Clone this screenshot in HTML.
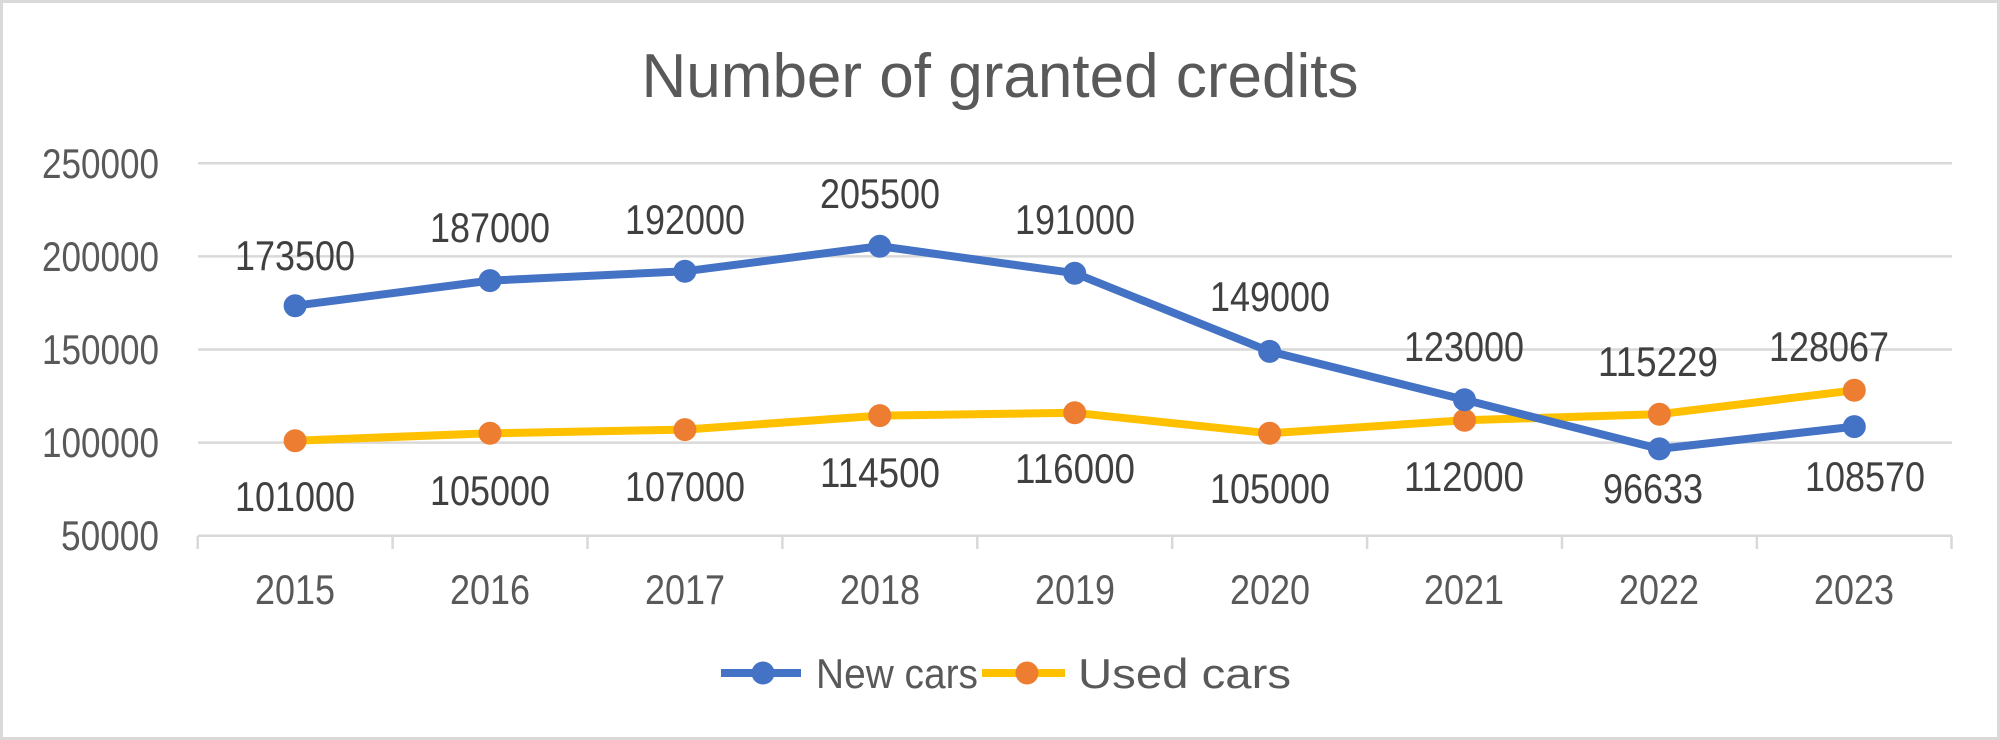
<!DOCTYPE html>
<html><head><meta charset="utf-8"><style>html,body{margin:0;padding:0;background:#fff}svg{display:block}</style></head>
<body>
<svg width="2000" height="740" viewBox="0 0 2000 740" xmlns="http://www.w3.org/2000/svg" font-family="Liberation Sans, sans-serif" fill="#595959">
<rect x="1.5" y="1.5" width="1997" height="737" fill="#fff" stroke="#d9d9d9" stroke-width="3"/>
<text x="1000" y="97" font-size="62" text-anchor="middle" textLength="717" lengthAdjust="spacingAndGlyphs">Number of granted credits</text>
<g stroke="#d9d9d9" stroke-width="2.5">
<line x1="198" y1="163.3" x2="1952" y2="163.3"/>
<line x1="198" y1="256.4" x2="1952" y2="256.4"/>
<line x1="198" y1="349.5" x2="1952" y2="349.5"/>
<line x1="198" y1="442.6" x2="1952" y2="442.6"/>
<line x1="198" y1="535.7" x2="1952" y2="535.7"/>
<line x1="197.7" y1="535.7" x2="197.7" y2="549"/><line x1="392.6" y1="535.7" x2="392.6" y2="549"/><line x1="587.5" y1="535.7" x2="587.5" y2="549"/><line x1="782.4" y1="535.7" x2="782.4" y2="549"/><line x1="977.3" y1="535.7" x2="977.3" y2="549"/><line x1="1172.2" y1="535.7" x2="1172.2" y2="549"/><line x1="1367.1" y1="535.7" x2="1367.1" y2="549"/><line x1="1562" y1="535.7" x2="1562" y2="549"/><line x1="1951.5" y1="535.7" x2="1951.5" y2="549"/><line x1="1756.9" y1="535.7" x2="1756.9" y2="549"/>
</g>
<g font-size="42" text-anchor="end" lengthAdjust="spacingAndGlyphs">
<text x="159" y="178" textLength="117" lengthAdjust="spacingAndGlyphs">250000</text><text x="159" y="271" textLength="117" lengthAdjust="spacingAndGlyphs">200000</text><text x="159" y="364" textLength="117" lengthAdjust="spacingAndGlyphs">150000</text><text x="159" y="457" textLength="117" lengthAdjust="spacingAndGlyphs">100000</text><text x="159" y="550" textLength="98" lengthAdjust="spacingAndGlyphs">50000</text>
</g>
<g font-size="42" text-anchor="middle">
<text x="295" y="604" textLength="80" lengthAdjust="spacingAndGlyphs">2015</text><text x="490" y="604" textLength="80" lengthAdjust="spacingAndGlyphs">2016</text><text x="685" y="604" textLength="80" lengthAdjust="spacingAndGlyphs">2017</text><text x="880" y="604" textLength="80" lengthAdjust="spacingAndGlyphs">2018</text><text x="1075" y="604" textLength="80" lengthAdjust="spacingAndGlyphs">2019</text><text x="1270" y="604" textLength="80" lengthAdjust="spacingAndGlyphs">2020</text><text x="1464" y="604" textLength="80" lengthAdjust="spacingAndGlyphs">2021</text><text x="1659" y="604" textLength="80" lengthAdjust="spacingAndGlyphs">2022</text><text x="1854" y="604" textLength="80" lengthAdjust="spacingAndGlyphs">2023</text>
</g>
<polyline fill="none" stroke="#FFC000" stroke-width="8" stroke-linejoin="round" points="295.1,440.7 490,433.3 684.9,429.6 879.8,415.6 1074.7,412.8 1269.6,433.3 1464.5,420.3 1659.4,414.2 1854.3,390.3"/>
<polyline fill="none" stroke="#4472C4" stroke-width="8" stroke-linejoin="round" points="295.1,305.7 490,280.6 684.9,271.3 879.8,246.2 1074.7,273.2 1269.6,351.4 1464.5,399.8 1659.4,448.9 1854.3,426.6"/>
<g fill="#ED7D31">
<circle cx="295.1" cy="440.7" r="11.5"/><circle cx="490" cy="433.3" r="11.5"/><circle cx="684.9" cy="429.6" r="11.5"/><circle cx="879.8" cy="415.6" r="11.5"/><circle cx="1074.7" cy="412.8" r="11.5"/><circle cx="1269.6" cy="433.3" r="11.5"/><circle cx="1464.5" cy="420.3" r="11.5"/><circle cx="1659.4" cy="414.2" r="11.5"/><circle cx="1854.3" cy="390.3" r="11.5"/>
</g>
<g fill="#4472C4">
<circle cx="295.1" cy="305.7" r="11.5"/><circle cx="490" cy="280.6" r="11.5"/><circle cx="684.9" cy="271.3" r="11.5"/><circle cx="879.8" cy="246.2" r="11.5"/><circle cx="1074.7" cy="273.2" r="11.5"/><circle cx="1269.6" cy="351.4" r="11.5"/><circle cx="1464.5" cy="399.8" r="11.5"/><circle cx="1659.4" cy="448.9" r="11.5"/><circle cx="1854.3" cy="426.6" r="11.5"/>
</g>
<g font-size="42" text-anchor="middle" fill="#404040">
<text x="295" y="270" textLength="120" lengthAdjust="spacingAndGlyphs">173500</text><text x="490" y="242" textLength="120" lengthAdjust="spacingAndGlyphs">187000</text><text x="685" y="234" textLength="120" lengthAdjust="spacingAndGlyphs">192000</text><text x="880" y="208" textLength="120" lengthAdjust="spacingAndGlyphs">205500</text><text x="1075" y="234" textLength="120" lengthAdjust="spacingAndGlyphs">191000</text><text x="1270" y="311" textLength="120" lengthAdjust="spacingAndGlyphs">149000</text><text x="1464" y="361" textLength="120" lengthAdjust="spacingAndGlyphs">123000</text><text x="1658" y="376" textLength="120" lengthAdjust="spacingAndGlyphs">115229</text><text x="1829" y="361" textLength="120" lengthAdjust="spacingAndGlyphs">128067</text>
<text x="295" y="511" textLength="120" lengthAdjust="spacingAndGlyphs">101000</text><text x="490" y="505" textLength="120" lengthAdjust="spacingAndGlyphs">105000</text><text x="685" y="501" textLength="120" lengthAdjust="spacingAndGlyphs">107000</text><text x="880" y="487" textLength="120" lengthAdjust="spacingAndGlyphs">114500</text><text x="1075" y="483" textLength="120" lengthAdjust="spacingAndGlyphs">116000</text><text x="1270" y="503" textLength="120" lengthAdjust="spacingAndGlyphs">105000</text><text x="1464" y="491" textLength="120" lengthAdjust="spacingAndGlyphs">112000</text><text x="1653" y="503" textLength="100" lengthAdjust="spacingAndGlyphs">96633</text><text x="1865" y="491" textLength="120" lengthAdjust="spacingAndGlyphs">108570</text>
</g>
<line x1="721" y1="673" x2="801" y2="673" stroke="#4472C4" stroke-width="8"/>
<circle cx="763" cy="673" r="11.5" fill="#4472C4"/>
<text x="816" y="688" font-size="42" textLength="162" lengthAdjust="spacingAndGlyphs">New cars</text>
<line x1="982" y1="673" x2="1065" y2="673" stroke="#FFC000" stroke-width="8"/>
<circle cx="1027" cy="673" r="11.5" fill="#ED7D31"/>
<text x="1078" y="688" font-size="42" textLength="213" lengthAdjust="spacingAndGlyphs">Used cars</text>
</svg>
</body></html>
